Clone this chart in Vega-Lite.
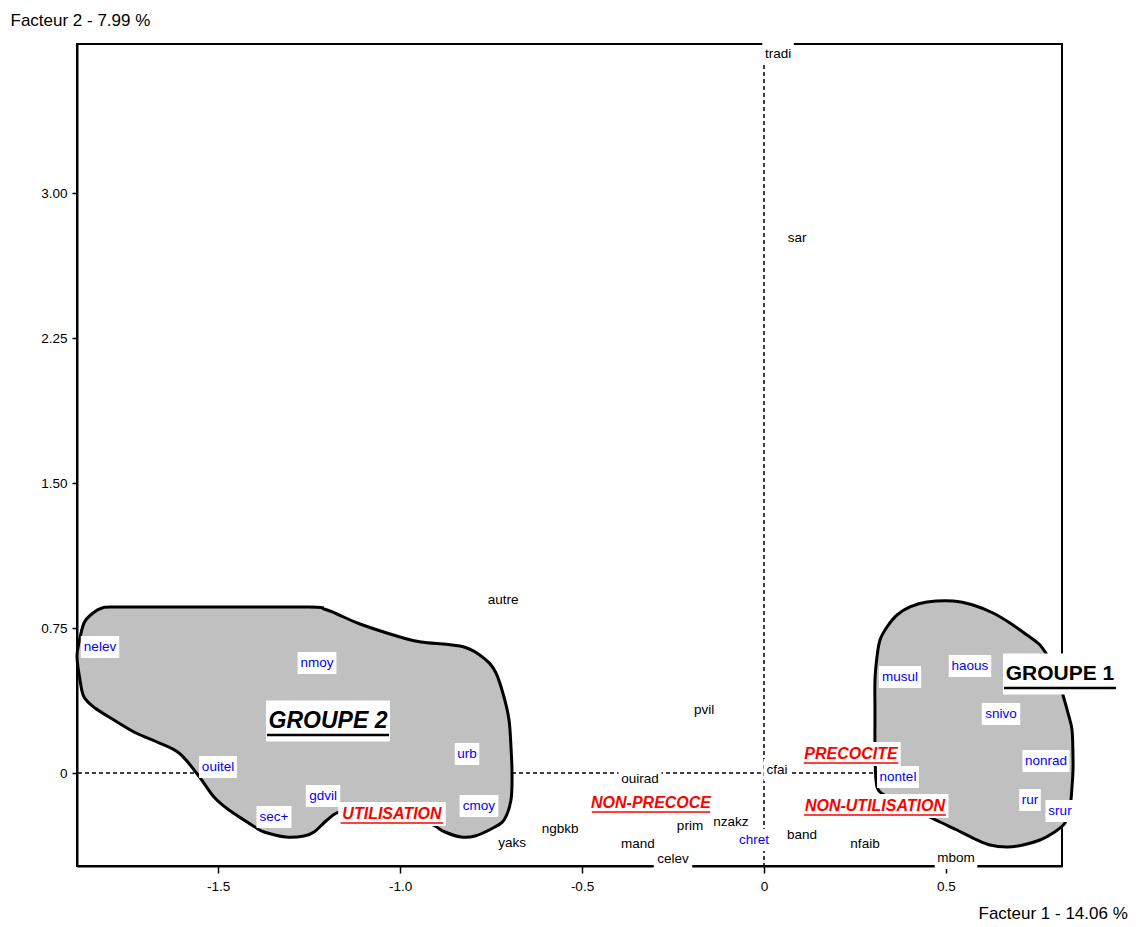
{
  "$schema": "https://vega.github.io/schema/vega-lite/v6.json",
  "width": 985,
  "height": 822,
  "autosize": {"type": "none"},
  "padding": {"left": 77, "top": 44, "right": 84, "bottom": 61},
  "background": "white",
  "config": {
    "view": {"stroke": "black", "strokeWidth": 2},
    "font": "Liberation Sans",
    "axis": {
      "grid": false, "domainColor": "black", "domainWidth": 2, "tickColor": "black", "tickWidth": 1.5,
      "labelColor": "black", "labelFontSize": 13.5, "labelFont": "Liberation Sans",
      "titleFont": "Liberation Sans", "titleFontWeight": "normal", "titleFontSize": 17, "titleColor": "black",
      "titleAngle": 0, "titleAlign": "left", "titleBaseline": "middle"
    }
  },
  "datasets": {
    "blobs": [
      {"g":"G2","i":0,"x":-1.8187,"y":0.8536},{"g":"G2","i":1,"x":-1.7830,"y":0.8588},{"g":"G2","i":2,"x":-1.5495,"y":0.8588},{"g":"G2","i":3,"x":-1.2500,"y":0.8588},
      {"g":"G2","i":4,"x":-1.2088,"y":0.8485},{"g":"G2","i":5,"x":-1.1731,"y":0.8226},{"g":"G2","i":6,"x":-1.1099,"y":0.7708},{"g":"G2","i":7,"x":-1.0,"y":0.7036},{"g":"G2","i":8,"x":-0.9423,"y":0.6777},
      {"g":"G2","i":9,"x":-0.8242,"y":0.6518},{"g":"G2","i":10,"x":-0.7637,"y":0.5846},{"g":"G2","i":11,"x":-0.7363,"y":0.5173},{"g":"G2","i":12,"x":-0.7143,"y":0.3932},
      {"g":"G2","i":13,"x":-0.7005,"y":0.2742},{"g":"G2","i":14,"x":-0.6951,"y":0.1345},{"g":"G2","i":15,"x":-0.6923,"y":0.0},{"g":"G2","i":16,"x":-0.6951,"y":-0.1397},
      {"g":"G2","i":17,"x":-0.7143,"y":-0.2431},{"g":"G2","i":18,"x":-0.7445,"y":-0.2845},{"g":"G2","i":19,"x":-0.7940,"y":-0.3259},{"g":"G2","i":20,"x":-0.8324,"y":-0.3311},
      {"g":"G2","i":21,"x":-0.8764,"y":-0.3052},{"g":"G2","i":22,"x":-0.9038,"y":-0.2742},{"g":"G2","i":23,"x":-0.9451,"y":-0.2328},{"g":"G2","i":24,"x":-1.0275,"y":-0.2069},
      {"g":"G2","i":25,"x":-1.1374,"y":-0.1914},{"g":"G2","i":26,"x":-1.1731,"y":-0.2069},{"g":"G2","i":27,"x":-1.2005,"y":-0.2431},{"g":"G2","i":28,"x":-1.2363,"y":-0.3052},
      {"g":"G2","i":29,"x":-1.2637,"y":-0.3259},{"g":"G2","i":30,"x":-1.3132,"y":-0.3311},{"g":"G2","i":31,"x":-1.3736,"y":-0.3052},{"g":"G2","i":32,"x":-1.3984,"y":-0.2794},
      {"g":"G2","i":33,"x":-1.4698,"y":-0.1914},{"g":"G2","i":34,"x":-1.5110,"y":-0.1242},{"g":"G2","i":35,"x":-1.5549,"y":-0.0103},{"g":"G2","i":36,"x":-1.6071,"y":0.1035},
      {"g":"G2","i":37,"x":-1.6676,"y":0.1604},{"g":"G2","i":38,"x":-1.7253,"y":0.2069},{"g":"G2","i":39,"x":-1.7857,"y":0.2742},{"g":"G2","i":40,"x":-1.8379,"y":0.3363},
      {"g":"G2","i":41,"x":-1.8681,"y":0.3932},{"g":"G2","i":42,"x":-1.8791,"y":0.4811},{"g":"G2","i":43,"x":-1.8874,"y":0.6001},{"g":"G2","i":44,"x":-1.8819,"y":0.6725},
      {"g":"G2","i":45,"x":-1.8681,"y":0.7760},{"g":"G2","i":46,"x":-1.8434,"y":0.8277},
      {"g":"G1","i":0,"x":0.4011,"y":0.8588},{"g":"G1","i":1,"x":0.4478,"y":0.8846},{"g":"G1","i":2,"x":0.5192,"y":0.8898},{"g":"G1","i":3,"x":0.5742,"y":0.8691},
      {"g":"G1","i":4,"x":0.6291,"y":0.8277},{"g":"G1","i":5,"x":0.6758,"y":0.7760},{"g":"G1","i":6,"x":0.7225,"y":0.7139},{"g":"G1","i":7,"x":0.7582,"y":0.6622},
      {"g":"G1","i":8,"x":0.7857,"y":0.5846},{"g":"G1","i":9,"x":0.8077,"y":0.5070},{"g":"G1","i":10,"x":0.8214,"y":0.4035},{"g":"G1","i":11,"x":0.8352,"y":0.3104},
      {"g":"G1","i":12,"x":0.8462,"y":0.2225},{"g":"G1","i":13,"x":0.8489,"y":0.0828},{"g":"G1","i":14,"x":0.8489,"y":0.0155},{"g":"G1","i":15,"x":0.8462,"y":-0.0724},
      {"g":"G1","i":16,"x":0.8407,"y":-0.1759},{"g":"G1","i":17,"x":0.8269,"y":-0.2587},{"g":"G1","i":18,"x":0.7940,"y":-0.3104},{"g":"G1","i":19,"x":0.7582,"y":-0.3466},
      {"g":"G1","i":20,"x":0.7115,"y":-0.3725},{"g":"G1","i":21,"x":0.6676,"y":-0.3828},{"g":"G1","i":22,"x":0.6209,"y":-0.3725},{"g":"G1","i":23,"x":0.5742,"y":-0.3363},
      {"g":"G1","i":24,"x":0.5302,"y":-0.2949},{"g":"G1","i":25,"x":0.4835,"y":-0.2535},{"g":"G1","i":26,"x":0.4286,"y":-0.2018},{"g":"G1","i":27,"x":0.3599,"y":-0.1397},
      {"g":"G1","i":28,"x":0.3187,"y":-0.0983},{"g":"G1","i":29,"x":0.3077,"y":-0.0362},{"g":"G1","i":30,"x":0.3049,"y":0.1345},{"g":"G1","i":31,"x":0.3049,"y":0.3104},
      {"g":"G1","i":32,"x":0.3049,"y":0.4811},{"g":"G1","i":33,"x":0.3104,"y":0.6001},{"g":"G1","i":34,"x":0.3187,"y":0.6881},{"g":"G1","i":35,"x":0.3379,"y":0.7553},
      {"g":"G1","i":36,"x":0.3654,"y":0.8174}
    ],
    "labels": [
      {"label":"tradi","kind":"cat","x":0.0385,"y":3.7197},
      {"label":"sar","kind":"cat","x":0.0907,"y":2.7677},
      {"label":"autre","kind":"cat","x":-0.7170,"y":0.8950},
      {"label":"pvil","kind":"cat","x":-0.1648,"y":0.3259},
      {"label":"ouirad","kind":"cat","x":-0.3407,"y":-0.0310},
      {"label":"cfai","kind":"cat","x":0.0357,"y":0.0155},
      {"label":"yaks","kind":"cat","x":-0.6923,"y":-0.3621},
      {"label":"ngbkb","kind":"cat","x":-0.5604,"y":-0.2897},
      {"label":"mand","kind":"cat","x":-0.3462,"y":-0.3673},
      {"label":"celev","kind":"cat","x":-0.2500,"y":-0.4449},
      {"label":"prim","kind":"cat","x":-0.2033,"y":-0.2742},
      {"label":"nzakz","kind":"cat","x":-0.0907,"y":-0.2535},
      {"label":"band","kind":"cat","x":0.1044,"y":-0.3207},
      {"label":"nfaib","kind":"cat","x":0.2775,"y":-0.3673},
      {"label":"mbom","kind":"cat","x":0.5275,"y":-0.4397},
      {"label":"nelev","kind":"mod","x":-1.8242,"y":0.6518},
      {"label":"nmoy","kind":"mod","x":-1.2280,"y":0.5691},
      {"label":"ouitel","kind":"mod","x":-1.5000,"y":0.0310},
      {"label":"urb","kind":"mod","x":-0.8159,"y":0.0983},
      {"label":"gdvil","kind":"mod","x":-1.2115,"y":-0.1190},
      {"label":"sec+","kind":"mod","x":-1.3462,"y":-0.2276},
      {"label":"cmoy","kind":"mod","x":-0.7830,"y":-0.1707},
      {"label":"chret","kind":"mod","x":-0.0275,"y":-0.3466},
      {"label":"musul","kind":"mod","x":0.3736,"y":0.4966},
      {"label":"haous","kind":"mod","x":0.5659,"y":0.5535},
      {"label":"snivo","kind":"mod","x":0.6511,"y":0.3052},
      {"label":"nonrad","kind":"mod","x":0.7747,"y":0.0621},
      {"label":"rur","kind":"mod","x":0.7308,"y":-0.1397},
      {"label":"srur","kind":"mod","x":0.8132,"y":-0.1966},
      {"label":"nontel","kind":"mod","x":0.3681,"y":-0.0207},
      {"label":"UTILISATION","kind":"var","x":-1.0220,"y":-0.2121},
      {"label":"NON-PRECOCE","kind":"var","x":-0.3104,"y":-0.1552},
      {"label":"PRECOCITE","kind":"var","x":0.2390,"y":0.0983},
      {"label":"NON-UTILISATION","kind":"var","x":0.3049,"y":-0.1707},
      {"label":"GROUPE 2","kind":"groupi","x":-1.1978,"y":0.2690},
      {"label":"GROUPE 1","kind":"group","x":0.8132,"y":0.5122}
    ]
  },
  "layer": [
    {
      "data": {"values": [{}]},
      "mark": {"type": "rule", "strokeDash": [4, 3], "color": "black", "strokeWidth": 1.5},
      "encoding": {
        "y": {"datum": 0, "type": "quantitative",
          "scale": {"domain": [-0.4811, 3.7713], "nice": false, "zero": false},
          "axis": {"values": [0, 0.75, 1.5, 2.25, 3], "tickSize": 5, "labelPadding": 5,
            "labelExpr": "datum.value == 0 ? '0' : format(datum.value, '.2f')",
            "title": "Facteur 2  -  7.99 %", "titleX": -67, "titleY": -24}}
      }
    },
    {
      "data": {"values": [{}]},
      "mark": {"type": "rule", "strokeDash": [4, 3], "color": "black", "strokeWidth": 1.5},
      "encoding": {
        "x": {"datum": 0, "type": "quantitative",
          "scale": {"domain": [-1.8874, 0.8187], "nice": false, "zero": false},
          "axis": {"values": [-1.5, -1, -0.5, 0, 0.5], "tickSize": 7, "labelPadding": 6,
            "labelExpr": "datum.value == 0 ? '0' : (datum.value < 0 ? '-' + format(-datum.value, '.1f') : format(datum.value, '.1f'))",
            "title": "Facteur 1  -  14.06 %", "titleX": 901, "titleY": 47}}
      }
    },
    {
      "data": {"name": "blobs"},
      "mark": {"type": "line", "interpolate": "cardinal-closed", "fill": "#c0c0c0", "stroke": "black", "strokeWidth": 3, "clip": false},
      "encoding": {
        "x": {"field": "x", "type": "quantitative"},
        "y": {"field": "y", "type": "quantitative"},
        "detail": {"field": "g"},
        "order": {"field": "i", "type": "quantitative"}
      }
    },
    {
      "data": {"name": "labels"},
      "transform": [
        {"calculate": "datum.kind == 'var' ? 16 : datum.kind == 'groupi' ? 23 : datum.kind == 'group' ? 21 : 13.5", "as": "fs"},
        {"calculate": "length(replace(datum.label, regexp('[^ijlftI. ]', 'g'), ''))", "as": "nN"},
        {"calculate": "length(replace(datum.label, regexp('[^r-]', 'g'), ''))", "as": "nM"},
        {"calculate": "length(replace(datum.label, regexp('[^mwMW]', 'g'), ''))", "as": "nW"},
        {"calculate": "length(replace(datum.label, regexp('[^A-HJ-LN-VX-Z]', 'g'), ''))", "as": "nC"},
        {"calculate": "datum.fs * (0.556 * length(datum.label) - 0.3 * datum.nN - 0.22 * datum.nM + 0.28 * datum.nW + 0.15 * datum.nC)", "as": "tw"},
        {"calculate": "datum.tw + (datum.kind == 'group' || datum.kind == 'groupi' ? 8 : 5)", "as": "bw"},
        {"calculate": "datum.kind == 'group' || datum.kind == 'groupi' ? 41 : datum.kind == 'var' ? 24 : 22", "as": "bh"},
        {"calculate": "datum.x - datum.bw / 2 / 364", "as": "bx1"},
        {"calculate": "datum.x + datum.bw / 2 / 364", "as": "bx2"},
        {"calculate": "datum.y - datum.bh / 2 / 193.3", "as": "by1"},
        {"calculate": "datum.y + datum.bh / 2 / 193.3", "as": "by2"}
      ],
      "mark": {"type": "rect", "fill": "white", "stroke": null},
      "encoding": {
        "x": {"field": "bx1", "type": "quantitative"},
        "x2": {"field": "bx2"},
        "y": {"field": "by1", "type": "quantitative"},
        "y2": {"field": "by2"}
      }
    },
    {
      "data": {"name": "labels"},
      "transform": [
        {"filter": "datum.kind == 'var' || datum.kind == 'group' || datum.kind == 'groupi'"},
        {"calculate": "datum.kind == 'var' ? 16 : datum.kind == 'groupi' ? 23 : 21", "as": "fs"},
        {"calculate": "length(replace(datum.label, regexp('[^ijlftI. ]', 'g'), ''))", "as": "nN"},
        {"calculate": "length(replace(datum.label, regexp('[^r-]', 'g'), ''))", "as": "nM"},
        {"calculate": "length(replace(datum.label, regexp('[^mwMW]', 'g'), ''))", "as": "nW"},
        {"calculate": "length(replace(datum.label, regexp('[^A-HJ-LN-VX-Z]', 'g'), ''))", "as": "nC"},
        {"calculate": "datum.fs * (0.556 * length(datum.label) - 0.3 * datum.nN - 0.22 * datum.nM + 0.28 * datum.nW + 0.15 * datum.nC) + (datum.kind == 'var' ? 0 : 6)", "as": "tw"},
        {"calculate": "datum.x - datum.tw / 2 / 364", "as": "ux1"},
        {"calculate": "datum.x + datum.tw / 2 / 364", "as": "ux2"},
        {"calculate": "datum.y - (datum.kind == 'var' ? 9 : 14) / 193.3", "as": "uy"},
        {"calculate": "datum.kind == 'var' ? 'red' : 'black'", "as": "uc"}
      ],
      "mark": {"type": "rule"},
      "encoding": {
        "x": {"field": "ux1", "type": "quantitative"},
        "x2": {"field": "ux2"},
        "y": {"field": "uy", "type": "quantitative"},
        "color": {"field": "uc", "type": "nominal", "scale": null},
        "strokeWidth": {"condition": {"test": "datum.kind == 'var'", "value": 1.5}, "value": 2.5}
      }
    },
    {
      "data": {"name": "labels"},
      "transform": [{"filter": "datum.kind == 'cat'"}],
      "mark": {"type": "text", "fontSize": 13.5, "color": "black", "align": "center", "baseline": "middle"},
      "encoding": {
        "x": {"field": "x", "type": "quantitative"},
        "y": {"field": "y", "type": "quantitative"},
        "text": {"field": "label"}
      }
    },
    {
      "data": {"name": "labels"},
      "transform": [{"filter": "datum.kind == 'mod'"}],
      "mark": {"type": "text", "fontSize": 13.5, "color": "#0000ff", "align": "center", "baseline": "middle"},
      "encoding": {
        "x": {"field": "x", "type": "quantitative"},
        "y": {"field": "y", "type": "quantitative"},
        "text": {"field": "label"}
      }
    },
    {
      "data": {"name": "labels"},
      "transform": [{"filter": "datum.kind == 'var'"}],
      "mark": {"type": "text", "fontSize": 16, "fontWeight": "bold", "fontStyle": "italic", "color": "#ff0000", "align": "center", "baseline": "middle"},
      "encoding": {
        "x": {"field": "x", "type": "quantitative"},
        "y": {"field": "y", "type": "quantitative"},
        "text": {"field": "label"}
      }
    },
    {
      "data": {"name": "labels"},
      "transform": [{"filter": "datum.kind == 'groupi'"}],
      "mark": {"type": "text", "fontSize": 23, "fontWeight": "bold", "fontStyle": "italic", "color": "black", "align": "center", "baseline": "middle"},
      "encoding": {
        "x": {"field": "x", "type": "quantitative"},
        "y": {"field": "y", "type": "quantitative"},
        "text": {"field": "label"}
      }
    },
    {
      "data": {"name": "labels"},
      "transform": [{"filter": "datum.kind == 'group'"}],
      "mark": {"type": "text", "fontSize": 21, "fontWeight": "bold", "color": "black", "align": "center", "baseline": "middle"},
      "encoding": {
        "x": {"field": "x", "type": "quantitative"},
        "y": {"field": "y", "type": "quantitative"},
        "text": {"field": "label"}
      }
    }
  ]
}
